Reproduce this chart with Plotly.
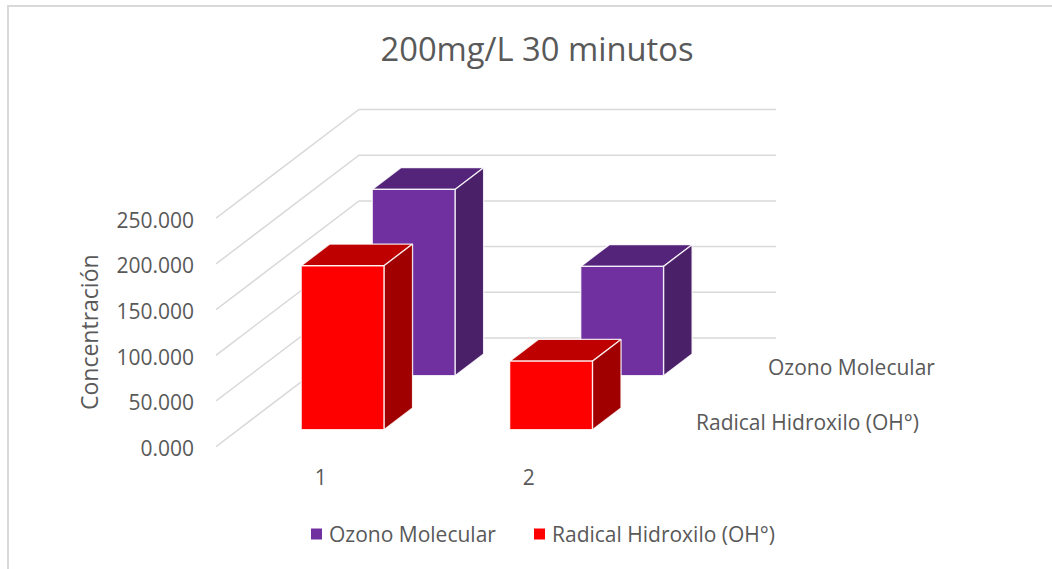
import plotly.graph_objects as go

# ---- data ----
categories = ["1", "2"]
series_names = ["Ozono Molecular", "Radical Hidroxilo (OH°)"]
ozono_values = [203.8, 119.6]
radical_values = [179.4, 75.0]
value_ticks = [0, 50, 100, 150, 200, 250]
value_tick_labels = ["0.000", "50.000", "100.000", "150.000", "200.000", "250.000"]

# ---- oblique projection (axis units) ----
W, H = 1052, 569
L, R, T, B = 216, 276, 100, 109
PX_PER_CAT = 208.5
PX_PER_VAL = 45.7 / 50
DX_PX, DY_PX = 143, 108.7
dx = DX_PX / PX_PER_CAT
dy = DY_PX / PX_PER_VAL
xr = [0, (W - L - R) / PX_PER_CAT]
yr = [-(H - B - 446.7) / PX_PER_VAL, (446.7 - T) / PX_PER_VAL]
LABEL_NUDGE = 2 / PX_PER_VAL  # tick text sits slightly below the gridline end


def proj(u, d, v):
    return u + d * dx, v + d * dy


def poly(pts):
    xs, ys = zip(*[proj(*p) for p in pts + [pts[0]]])
    return list(xs), list(ys)


def box_traces(cat, depth0, value, colors, name):
    u0, u1 = cat + 0.5 - 0.1985, cat + 0.5 + 0.1985
    d0, d1 = depth0, depth0 + 0.2
    faces = [
        ([(u0, d0, value), (u1, d0, value), (u1, d1, value), (u0, d1, value)], colors[1]),
        ([(u1, d0, 0), (u1, d1, 0), (u1, d1, value), (u1, d0, value)], colors[2]),
        ([(u0, d0, 0), (u1, d0, 0), (u1, d0, value), (u0, d0, value)], colors[0]),
    ]
    out = []
    for pts, c in faces:
        x, y = poly(pts)
        out.append(go.Scatter(x=x, y=y, mode="lines", fill="toself", fillcolor=c, name=name,
                              line=dict(color="rgba(255,255,255,0.85)", width=1.3),
                              showlegend=False, hoverinfo="skip"))
    return out


fig = go.Figure()

# walls' gridlines
gx, gy = [], []
for v in value_ticks:
    for p in [(0, 0, v), (0, 1, v), (xr[1] - dx, 1, v)]:
        x, y = proj(*p)
        gx.append(x)
        gy.append(y)
    gx.append(None)
    gy.append(None)
fig.add_trace(go.Scatter(x=gx, y=gy, mode="lines", line=dict(color="#d9d9d9", width=1.5),
                         showlegend=False, hoverinfo="skip"))

PURPLE = ("#7030a0", "#54247a", "#4a2068")
RED = ("#ff0000", "#bf0000", "#a00000")
for i in range(len(categories)):
    for t in box_traces(i, 0.653, ozono_values[i], PURPLE, series_names[0]):
        fig.add_trace(t)
    for t in box_traces(i, 0.156, radical_values[i], RED, series_names[1]):
        fig.add_trace(t)


def px(x):
    return (x - L) / (W - L - R)


def py(y):
    return (H - B - y) / (H - T - B)


FONT = "Open Sans"
GREY = "#595959"
annots = [
    dict(text="Concentración", x=px(89), y=py(332), textangle=-90, font=dict(size=23)),
    dict(text=series_names[0], x=px(851.5), y=py(367), font=dict(size=21)),
    dict(text=series_names[1], x=px(807.5), y=py(422), font=dict(size=21)),
    dict(text=series_names[0], x=px(327), y=py(534), font=dict(size=21), xanchor="left"),
    dict(text=series_names[1], x=px(550), y=py(534), font=dict(size=21), xanchor="left"),
]
for a in annots:
    a.setdefault("xanchor", "center")
    a.update(xref="paper", yref="paper", showarrow=False, yanchor="middle")
    a["font"].update(family=FONT, color=GREY)

shapes = [dict(type="rect", xref="paper", yref="paper", x0=px(8), x1=px(1200), y0=py(900), y1=py(6),
               line=dict(color="#d9d9d9", width=2), fillcolor="rgba(0,0,0,0)", layer="below")]
for x0, col in [(311, PURPLE[0]), (534, RED[0])]:
    shapes.append(dict(type="rect", xref="paper", yref="paper", x0=px(x0), x1=px(x0 + 11),
                       y0=py(539.5), y1=py(528.5), fillcolor=col, line=dict(width=0)))

fig.update_layout(
    width=W, height=H,
    margin=dict(l=L, r=R, t=T, b=B, autoexpand=False),
    paper_bgcolor="white", plot_bgcolor="white",
    font=dict(family=FONT, color=GREY, size=21),
    title=dict(text="200mg/L 30 minutos", x=537 / W, y=1 - 50 / H, xref="container", yref="container",
               xanchor="center", yanchor="middle", font=dict(size=32.7, family=FONT, color=GREY)),
    xaxis=dict(range=xr, tickvals=[0.502, 1.5], ticktext=categories, showgrid=False, zeroline=False,
               showline=False, ticks="", tickfont=dict(size=21, family=FONT, color=GREY),
               ticklabelstandoff=3, fixedrange=True),
    yaxis=dict(range=yr, tickvals=[v - LABEL_NUDGE for v in value_ticks], ticktext=value_tick_labels,
               showgrid=False, zeroline=False,
               showline=False, ticks="", tickfont=dict(size=21, family=FONT, color=GREY),
               ticklabelstandoff=21, fixedrange=True),
    annotations=annots,
    shapes=shapes,
    showlegend=False,
)

fig.write_html("out.html", config={"displayModeBar": False},
               post_script="document.body.style.margin='0';document.body.style.overflow='hidden';")
